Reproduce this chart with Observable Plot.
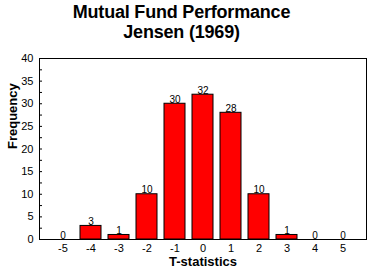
<!DOCTYPE html>
<html>
<head>
<meta charset="utf-8">
<script src="https://cdn.jsdelivr.net/npm/d3@7"></script>
<script src="https://cdn.jsdelivr.net/npm/@observablehq/plot@0.6"></script>
<style>
  html, body { margin: 0; padding: 0; background: #fff; }
  #wrap { width: 371px; font-family: "Liberation Sans", Arial, sans-serif; }
  .title { width: 371px; height: 46px; box-sizing: border-box; padding-top: 2px; text-align: center; font-weight: bold; font-size: 18px; line-height: 20px; color: #000; padding-right: 8px; letter-spacing: -0.2px; }
</style>
</head>
<body>
<div id="wrap">
  <div class="title">Mutual Fund Performance<br>Jensen (1969)</div>
  <div id="chart"></div>
</div>
<script>
const tStats = ["-5", "-4", "-3", "-2", "-1", "0", "1", "2", "3", "4", "5"];
const frequency = [0, 3, 1, 10, 30, 32, 28, 10, 1, 0, 0];
const yTicks = [0, 5, 10, 15, 20, 25, 30, 35, 40];
const yMinorTicks = [0, 2.5, 5, 7.5, 10, 12.5, 15, 17.5, 20, 22.5, 25, 27.5, 30, 32.5, 35, 37.5, 40];

const data = tStats.map((t, i) => ({t, f: frequency[i]}));

const chart = Plot.plot({
  width: 371,
  height: 229,
  marginLeft: 39,
  marginRight: 5,
  marginTop: 12,
  marginBottom: 36,
  style: {fontFamily: "'Liberation Sans', Arial, sans-serif", fontSize: "11px", color: "#000", background: "#fff"},
  x: {domain: tStats, paddingInner: 0.24, paddingOuter: 0.26},
  y: {domain: [0, 40]},
  marks: [
    Plot.barY(data, {x: "t", y: "f", fill: "#ff0000", stroke: "#000", strokeWidth: 1}),
    Plot.text(data, {x: "t", y: "f", text: d => String(d.f), lineAnchor: "bottom", dy: -1, fontSize: 10, fill: "#000"}),
    Plot.frame({stroke: "#000", strokeWidth: 1}),
    Plot.axisY(yMinorTicks, {tickSize: -3, text: null, label: null}),
    Plot.axisY(yTicks, {tickSize: 0, tickPadding: 6, label: null, fontSize: 11}),
    Plot.axisX({tickSize: 0, tickPadding: 5, label: null, fontSize: 11}),
    Plot.text(["Frequency"], {frameAnchor: "left", dx: -27, rotate: -90, fontWeight: "bold", fontSize: 13}),
    Plot.text(["T-statistics"], {frameAnchor: "bottom", dy: 26, fontWeight: "bold", fontSize: 13})
  ]
});
document.getElementById("chart").appendChild(chart);
</script>
</body>
</html>
